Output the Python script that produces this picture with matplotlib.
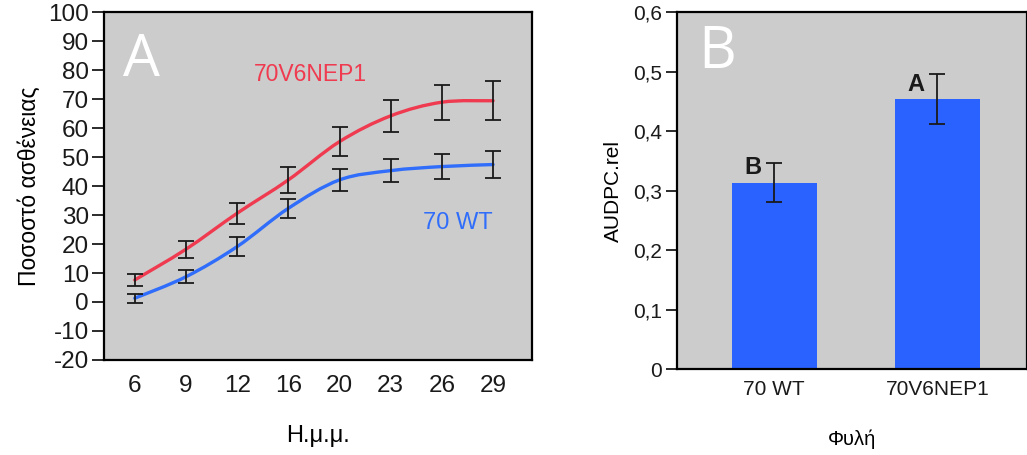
"""Disease progress curves (A) and relative AUDPC per line (B)."""

import matplotlib

matplotlib.use("Agg")
import matplotlib.pyplot as plt
import numpy as np
from matplotlib.patches import PathPatch
from matplotlib.path import Path

# --- data ---------------------------------------------------------------
days = ["6", "9", "12", "16", "20", "23", "26", "29"]
nep1_mean = [7.6, 18.2, 30.6, 42.1, 55.3, 64.2, 68.9, 69.4]
nep1_err = [2.0, 3.0, 3.7, 4.5, 5.0, 5.6, 6.0, 6.7]
wt_mean = [1.3, 8.7, 19.1, 32.3, 42.1, 45.3, 46.7, 47.4]
wt_err = [1.5, 2.3, 3.3, 3.3, 3.7, 3.9, 4.3, 4.7]

lines = ["70 WT", "70V6NEP1"]
audpc = [0.313, 0.453]
audpc_err = [0.033, 0.042]
groups = ["B", "A"]
yticks_b = [0, 0.1, 0.2, 0.3, 0.4, 0.5, 0.6]
yticklabels_b = ["0", "0,1", "0,2", "0,3", "0,4", "0,5", "0,6"]

RED = "#ef3a4f"
BLUE = "#2f6dfa"
BAR = "#2962ff"
BG = "#cccccc"
INK = "#1a1a1a"
plt.rcParams["font.family"] = ["Liberation Sans", "DejaVu Sans"]
plt.rcParams["axes.unicode_minus"] = False


def smooth_path(x, y):
    """Catmull-Rom curve through the points, as cubic Bezier segments."""
    pts = np.column_stack([x, y]).astype(float)
    verts = [pts[0]]
    codes = [Path.MOVETO]
    for i in range(len(pts) - 1):
        p0 = pts[max(i - 1, 0)]
        p1, p2 = pts[i], pts[i + 1]
        p3 = pts[min(i + 2, len(pts) - 1)]
        verts += [p1 + (p2 - p0) / 6, p2 - (p3 - p1) / 6, p2]
        codes += [Path.CURVE4] * 3
    return Path(verts, codes)


fig = plt.figure(figsize=(10.27, 4.55), dpi=100)
axa = fig.add_axes([0.1013, 0.2088, 0.4167, 0.7648])
axb = fig.add_axes([0.6592, 0.189, 0.3408, 0.7846])

# Panel A
axa.set_facecolor(BG)
xs = np.arange(len(days))
for mean, err, col in [(nep1_mean, nep1_err, RED), (wt_mean, wt_err, BLUE)]:
    axa.add_patch(
        PathPatch(smooth_path(xs, mean), fill=False, edgecolor=col, lw=2.4,
                  capstyle="round", zorder=2)
    )
    axa.errorbar(xs, mean, yerr=err, fmt="none", ecolor=INK,
                 elinewidth=1.3, capsize=6, capthick=1.3, zorder=3)
axa.set_xlim(-0.6, 7.76)
axa.set_ylim(-20, 100)
axa.set_yticks(range(-20, 101, 10))
axa.set_xticks(xs)
axa.set_xticklabels(days)
axa.tick_params(axis="y", length=9, width=1.3, direction="out", pad=2,
                labelsize=17.5, colors=INK)
axa.tick_params(axis="x", length=0, pad=11, labelsize=17.5, colors=INK)
for sp in axa.spines.values():
    sp.set_linewidth(1.6)
axa.set_ylabel("Ποσοστό ασθένειας", fontsize=16.5, labelpad=5)
axa.set_xlabel("Η.μ.μ.", fontsize=17, labelpad=20)
axa.text(0.045, 0.86, "A", transform=axa.transAxes, color="white",
         fontsize=42, family="Open Sans", va="center", ha="left")
axa.text(0.35, 0.82, "70V6NEP1", transform=axa.transAxes, color=RED,
         fontsize=16.5, va="center", ha="left")
axa.text(0.745, 0.395, "70 WT", transform=axa.transAxes, color=BLUE,
         fontsize=17, va="center", ha="left")

# Panel B
axb.set_facecolor(BG)
xb = np.arange(len(lines))
axb.bar(xb, audpc, width=0.52, color=BAR, zorder=2)
axb.errorbar(xb, audpc, yerr=audpc_err, fmt="none", ecolor=INK,
             elinewidth=1.3, capsize=6, capthick=1.3, zorder=3)
for x, v, g in zip(xb, audpc, groups):
    axb.text(x - 0.13, v + 0.006, g, color=INK, fontsize=17,
             fontweight="bold", ha="center", va="bottom", zorder=4)
axb.set_xlim(-0.595, 1.55)
axb.set_ylim(0, 0.6)
axb.set_yticks(yticks_b)
axb.set_yticklabels(yticklabels_b)
axb.set_xticks(xb)
axb.set_xticklabels(lines)
axb.tick_params(axis="y", length=8, width=1.3, direction="out", pad=3,
                labelsize=15, colors=INK)
axb.tick_params(axis="x", length=0, pad=8, labelsize=15, colors=INK)
for sp in axb.spines.values():
    sp.set_linewidth(1.6)
axb.set_ylabel("AUDPC.rel", fontsize=15, labelpad=7)
axb.set_xlabel("Φυλή", fontsize=14.5, labelpad=22)
axb.text(0.06, 0.885, "B", transform=axb.transAxes, color="white",
         fontsize=42, family="Open Sans", va="center", ha="left")

fig.savefig("out.png", dpi=100)
plt.close(fig)
